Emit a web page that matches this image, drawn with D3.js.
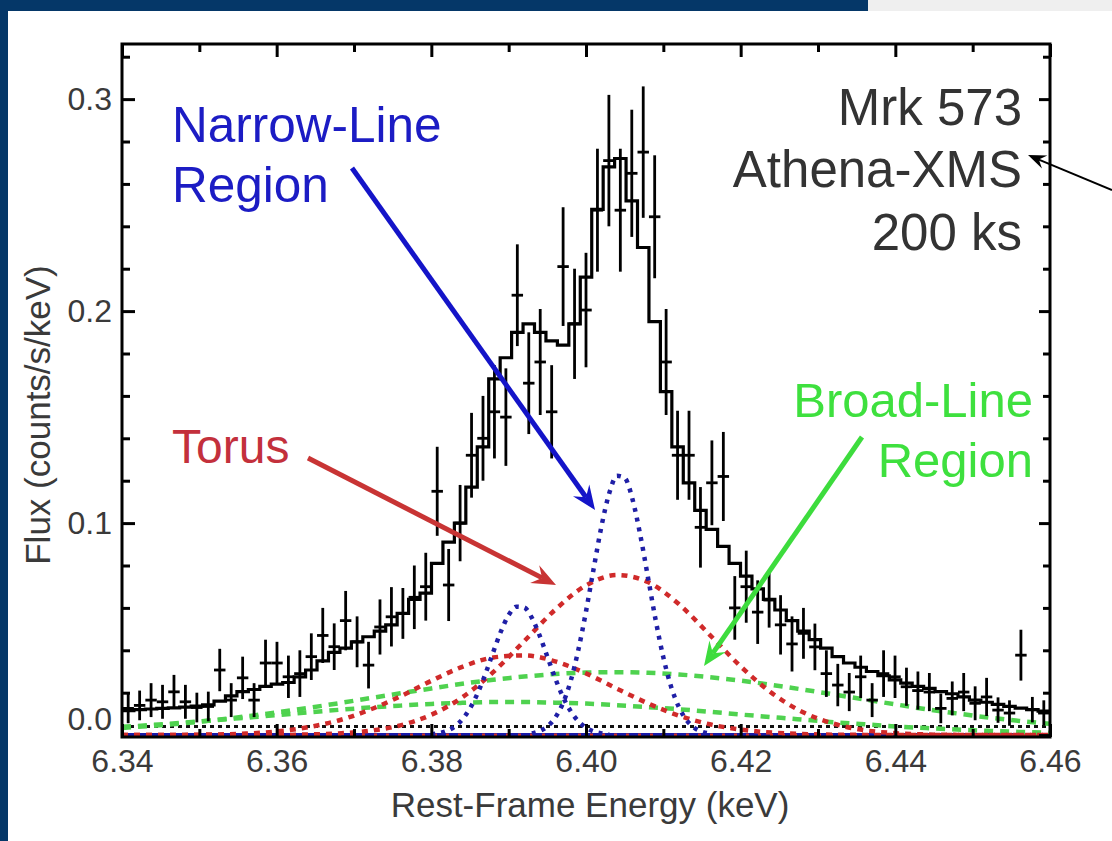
<!DOCTYPE html>
<html><head><meta charset="utf-8">
<script src="https://cdn.jsdelivr.net/npm/d3@7"></script>
<style>
html,body{margin:0;padding:0;background:#fff;}
svg{display:block;font-family:"Liberation Sans",Arial,Helvetica,sans-serif;}
</style></head><body>
<svg id="chart" width="1112" height="841"></svg>
<script>
// ---------------- DATA ----------------
const binWidth = 0.00148;
const binCenters = [6.34080,6.34228,6.34376,6.34524,6.34672,6.34820,6.34968,6.35116,6.35264,6.35412,
6.35560,6.35708,6.35856,6.36004,6.36152,6.36300,6.36448,6.36596,6.36744,6.36892,
6.37040,6.37188,6.37336,6.37484,6.37632,6.37780,6.37928,6.38076,6.38224,6.38372,
6.38520,6.38668,6.38816,6.38964,6.39112,6.39260,6.39408,6.39556,6.39704,6.39852,
6.40000,6.40148,6.40296,6.40444,6.40592,6.40740,6.40888,6.41036,6.41184,6.41332,
6.41480,6.41628,6.41776,6.41924,6.42072,6.42220,6.42368,6.42516,6.42664,6.42812,
6.42960,6.43108,6.43256,6.43404,6.43552,6.43700,6.43848,6.43996,6.44144,6.44292,
6.44440,6.44588,6.44736,6.44884,6.45032,6.45180,6.45328,6.45476,6.45624,6.45772,6.45920];
const flux = [0.0126,0.0140,0.0165,0.0157,0.0204,0.0157,0.0130,0.0135,0.0307,0.0165,
0.0270,0.0165,0.0340,0.0340,0.0275,0.0290,0.0370,0.0470,0.0417,0.0540,
0.0440,0.0330,0.0510,0.0558,0.0574,0.0650,0.0700,0.1150,0.0708,0.1000,
0.1320,0.1400,0.1525,0.1500,0.2075,0.1660,0.1760,0.1525,0.2210,0.1940,
0.2005,0.2476,0.2710,0.2476,0.2650,0.2750,0.2445,0.1760,0.1320,0.1320,
0.0980,0.1190,0.1220,0.0600,0.0700,0.0580,0.0637,0.0520,0.0430,0.0480,
0.0416,0.0290,0.0236,0.0203,0.0275,0.0165,0.0290,0.0275,0.0228,0.0210,
0.0203,0.0126,0.0173,0.0203,0.0150,0.0180,0.0118,0.0104,0.0377,0.0120,0.0104];
const fluxErr = [0.007,0.007,0.008,0.008,0.008,0.008,0.007,0.007,0.010,0.008,
0.010,0.008,0.011,0.010,0.010,0.011,0.011,0.013,0.011,0.014,
0.012,0.011,0.013,0.014,0.012,0.015,0.016,0.021,0.017,0.018,
0.020,0.020,0.022,0.023,0.024,0.024,0.025,0.022,0.028,0.026,
0.027,0.029,0.031,0.029,0.030,0.031,0.029,0.025,0.021,0.021,
0.019,0.020,0.021,0.015,0.017,0.015,0.013,0.014,0.013,0.012,
0.011,0.011,0.010,0.009,0.010,0.008,0.011,0.010,0.009,0.009,
0.009,0.007,0.008,0.009,0.008,0.009,0.006,0.006,0.012,0.006,0.006];
const model = [0.0115,0.0120,0.0123,0.0126,0.0128,0.0132,0.0137,0.0143,0.0160,0.0185,
0.0205,0.0215,0.0230,0.0240,0.0248,0.0275,0.0307,0.0350,0.0390,0.0410,
0.0440,0.0464,0.0490,0.0520,0.0574,0.0640,0.0670,0.0810,0.0910,0.1000,
0.1170,0.1360,0.1680,0.1780,0.1900,0.1940,0.1900,0.1860,0.1840,0.1940,
0.2160,0.2480,0.2680,0.2720,0.2520,0.2300,0.1950,0.1620,0.1360,0.1190,
0.1060,0.0970,0.0890,0.0810,0.0750,0.0690,0.0640,0.0590,0.0540,0.0490,
0.0450,0.0410,0.0370,0.0340,0.0320,0.0300,0.0280,0.0260,0.0245,0.0230,
0.0220,0.0205,0.0195,0.0180,0.0165,0.0155,0.0145,0.0135,0.0127,0.0120,0.0113];

// model components
const broadE = [6.340,6.344,6.348,6.352,6.356,6.360,6.364,6.368,6.372,6.376,6.380,6.384,6.388,6.392,6.396,6.400,
6.404,6.408,6.412,6.416,6.420,6.424,6.428,6.432,6.436,6.440,6.444,6.448,6.452,6.456,6.460];
const torusKa2 = [0,0,0.0001,0.0003,0.0007,0.0017,0.0037,0.0069,0.0119,0.0183,0.0256,0.0322,0.0366,0.0376,0.0348,0.0291,
0.0219,0.0150,0.0092,0.0051,0.0026,0.0012,0.0005,0.0002,0.0001,0,0,0,0,0,0];
const torusKa1 = [0,0,0,0,0,0,0.0003,0.0008,0.0020,0.0046,0.0096,0.0178,0.0297,0.0443,0.0591,0.0706,
0.0755,0.0722,0.0618,0.0473,0.0324,0.0199,0.0109,0.0054,0.0023,0.0009,0.0003,0.0001,0,0,0];
const blrKa1 = [0.0034,0.0044,0.0056,0.0071,0.0088,0.0107,0.0128,0.0150,0.0174,0.0197,0.0220,0.0242,0.0261,0.0276,0.0288,0.0295,
0.0297,0.0294,0.0286,0.0273,0.0257,0.0237,0.0215,0.0192,0.0168,0.0145,0.0122,0.0102,0.0083,0.0067,0.0053];
const blrKa2 = [0.0039,0.0048,0.0059,0.0070,0.0082,0.0094,0.0107,0.0119,0.0130,0.0139,0.0147,0.0152,0.0156,0.0156,0.0153,0.0149,
0.0141,0.0132,0.0122,0.0110,0.0097,0.0085,0.0073,0.0061,0.0051,0.0041,0.0033,0.0026,0.0020,0.0015,0.0011];
const nlrKa2E = [6.380,6.381,6.382,6.383,6.384,6.385,6.386,6.387,6.388,6.389,6.390,6.391,6.392,6.393,6.394,6.395,
6.396,6.397,6.398,6.399,6.400,6.401,6.402,6.403];
const nlrKa2 = [0.0004,0.0009,0.0020,0.0040,0.0074,0.0126,0.0198,0.0289,0.0391,0.0489,0.0566,0.0606,0.0602,0.0553,0.0470,0.0370,
0.0270,0.0182,0.0114,0.0066,0.0035,0.0017,0.0008,0.0003];
const nlrKa1E = [6.393,6.394,6.395,6.396,6.397,6.398,6.399,6.400,6.401,6.402,6.403,6.404,6.405,6.406,6.407,6.408,
6.409,6.410,6.411,6.412,6.413,6.414,6.415,6.416];
const nlrKa1 = [0.0008,0.0019,0.0041,0.0081,0.0149,0.0253,0.0400,0.0583,0.0787,0.0985,0.1140,0.1223,0.1213,0.1114,0.0947,0.0747,
0.0544,0.0367,0.0229,0.0133,0.0071,0.0035,0.0016,0.0007];
const levelE = [6.34, 6.46];
const continuum = [0.004, 0.004];
const zeroLevel = [0, 0];

// axes
const xLabelTicks = [6.34,6.36,6.38,6.40,6.42,6.44,6.46];
const xMinorTicks = [6.35,6.37,6.39,6.41,6.43,6.45];
const yLabelTicks = [0.0,0.1,0.2,0.3];
const yMinorTicks = [0.02,0.04,0.06,0.08,0.12,0.14,0.16,0.18,0.22,0.24,0.26,0.28,0.32];
const xTitle = "Rest-Frame Energy (keV)";
const yTitle = "Flux (counts/s/keV)";
const infoLines = ["Mrk 573", "Athena-XMS", "200 ks"];

// ---------------- DRAW ----------------
const svg = d3.select("#chart");
const W = 1112, H = 841;
const M = {left:122, right:1050, top:44, bottom:737};
const x = d3.scaleLinear().domain([6.34, 6.46]).range([M.left, M.right]);
const y = d3.scaleLinear().domain([-0.0009, 0.326]).range([M.bottom, M.top]);

// page frame
svg.append("rect").attr("width",W).attr("height",H).attr("fill","#fff");
svg.append("rect").attr("x",0).attr("y",0).attr("width",868).attr("height",11).attr("fill","#053768");
svg.append("rect").attr("x",868).attr("y",0).attr("width",W-868).attr("height",11).attr("fill","#efefef");
svg.append("rect").attr("x",0).attr("y",0).attr("width",8).attr("height",H).attr("fill","#053768");

svg.append("defs").append("clipPath").attr("id","plotclip")
  .append("rect").attr("x",M.left).attr("y",M.top).attr("width",M.right-M.left).attr("height",M.bottom-M.top);

const plot = svg.append("g").attr("clip-path","url(#plotclip)");

const lineOf = (E, V, curve) => d3.line().x((d,i)=>x(E[i])).y(d=>y(d)).curve(curve||d3.curveLinear)(V);

// zero-level components
plot.append("path").attr("d",lineOf(levelE, zeroLevel)).attr("fill","none")
  .attr("stroke","#1a1aa8").attr("stroke-width",4);
plot.append("path").attr("d",lineOf(levelE, zeroLevel)).attr("fill","none")
  .attr("stroke","#d03030").attr("stroke-width",3).attr("stroke-dasharray","3,9");
// continuum
plot.append("path").attr("d",lineOf(levelE, continuum)).attr("fill","none")
  .attr("stroke","#111").attr("stroke-width",3).attr("stroke-dasharray","4,4");

const comps = [
  {E: broadE, V: blrKa2, color:"#4fd24f", dash:"9,7"},
  {E: broadE, V: blrKa1, color:"#4fd24f", dash:"9,7"},
  {E: broadE, V: torusKa2, color:"#d02a2a", dash:"6,6"},
  {E: broadE, V: torusKa1, color:"#d02a2a", dash:"6,6"},
  {E: nlrKa2E, V: nlrKa2, color:"#1f1fa6", dash:"4,6"},
  {E: nlrKa1E, V: nlrKa1, color:"#1f1fa6", dash:"4,6"}
];
comps.forEach(c => {
  plot.append("path").attr("d", lineOf(c.E, c.V, d3.curveMonotoneX)).attr("fill","none")
    .attr("stroke", c.color).attr("stroke-width",4.5).attr("stroke-dasharray", c.dash);
});

// model histogram
const stepPts = [];
binCenters.forEach((c,i) => { stepPts.push([c - binWidth/2, model[i]]); stepPts.push([c + binWidth/2, model[i]]); });
plot.append("path").attr("d", d3.line().x(d=>x(d[0])).y(d=>y(d[1]))(stepPts))
  .attr("fill","none").attr("stroke","#000").attr("stroke-width",3.2);

// data crosses
const cross = plot.append("g").attr("stroke","#000").attr("stroke-width",2.8);
binCenters.forEach((c,i) => {
  cross.append("line").attr("x1",x(c)).attr("x2",x(c)).attr("y1",y(flux[i]-fluxErr[i])).attr("y2",y(flux[i]+fluxErr[i]));
  cross.append("line").attr("x1",x(c-binWidth/2)).attr("x2",x(c+binWidth/2)).attr("y1",y(flux[i])).attr("y2",y(flux[i]));
});

// axes
const tickColor = "#000";
function styleAxis(g){ g.select(".domain").remove(); g.selectAll("line").attr("stroke",tickColor).attr("stroke-width",3);
  g.selectAll("text").attr("fill","#3a3a3a").style("font-size","32px").style("font-family",'"Liberation Sans",Arial,sans-serif'); }
const gB = svg.append("g").attr("transform",`translate(0,${M.bottom})`)
  .call(d3.axisBottom(x).tickValues(xLabelTicks).tickSize(-13).tickPadding(12).tickFormat(d3.format(".2f")));
styleAxis(gB);
const gBm = svg.append("g").attr("transform",`translate(0,${M.bottom})`)
  .call(d3.axisBottom(x).tickValues(xMinorTicks).tickSize(-8).tickFormat(""));
styleAxis(gBm);
const gT = svg.append("g").attr("transform",`translate(0,${M.top})`)
  .call(d3.axisTop(x).tickValues(xLabelTicks).tickSize(-13).tickFormat(""));
styleAxis(gT);
const gTm = svg.append("g").attr("transform",`translate(0,${M.top})`)
  .call(d3.axisTop(x).tickValues(xMinorTicks).tickSize(-8).tickFormat(""));
styleAxis(gTm);
const gL = svg.append("g").attr("transform",`translate(${M.left},0)`)
  .call(d3.axisLeft(y).tickValues(yLabelTicks).tickSize(-13).tickPadding(10).tickFormat(d3.format(".1f")));
styleAxis(gL);
gL.selectAll(".tick").filter(d=>d===0).select("text").attr("y",-16);
gL.selectAll(".tick").filter(d=>d===0).select("line").remove();
const gLm = svg.append("g").attr("transform",`translate(${M.left},0)`)
  .call(d3.axisLeft(y).tickValues(yMinorTicks).tickSize(-8).tickFormat(""));
styleAxis(gLm);
const gR = svg.append("g").attr("transform",`translate(${M.right},0)`)
  .call(d3.axisRight(y).tickValues(yLabelTicks).tickSize(-11).tickFormat(""));
styleAxis(gR);
const gRm = svg.append("g").attr("transform",`translate(${M.right},0)`)
  .call(d3.axisRight(y).tickValues(yMinorTicks).tickSize(-7).tickFormat(""));
styleAxis(gRm);

// frame
svg.append("rect").attr("x",M.left).attr("y",M.top).attr("width",M.right-M.left).attr("height",M.bottom-M.top)
  .attr("fill","none").attr("stroke","#000").attr("stroke-width",3);

// axis titles
svg.append("text").attr("x",590).attr("y",817).attr("text-anchor","middle")
  .attr("fill","#3a3a3a").style("font-size","35px").text(xTitle);
svg.append("text").attr("transform","translate(50,415) rotate(-90)").attr("text-anchor","middle")
  .attr("fill","#3a3a3a").style("font-size","35px").text(yTitle);

// annotations (anchored in data coordinates)
function label(txt, e, v, anchor, color, size){
  svg.append("text").attr("x",x(e)).attr("y",y(v)).attr("text-anchor",anchor)
    .attr("fill",color).style("font-size",size+"px").text(txt);
}
infoLines.forEach((t,i)=> label(t, 6.45638, [0.2878,0.2585,0.2288][i], "end", "#333", 51));
label("Narrow-Line", 6.34647, 0.2798, "start", "#1c1cc4", 49.5);
label("Region", 6.34647, 0.2515, "start", "#1c1cc4", 49.5);
label("Torus", 6.34647, 0.1283, "start", "#c3303c", 48);
label("Broad-Line", 6.45780, 0.1500, "end", "#3ee03e", 49);
label("Region", 6.45780, 0.1217, "end", "#3ee03e", 49);

function arrow(e1,v1,e2,v2,color,width,headLen,headW){
  const x1=x(e1), y1=y(v1), x2=x(e2), y2=y(v2);
  const ang = Math.atan2(y2-y1, x2-x1);
  const ux=Math.cos(ang), uy=Math.sin(ang);
  const bx = x2 - ux*headLen, by = y2 - uy*headLen;
  const nx = x2 - ux*headLen*0.65, ny = y2 - uy*headLen*0.65;
  svg.append("line").attr("x1",x1).attr("y1",y1).attr("x2",nx).attr("y2",ny)
    .attr("stroke",color).attr("stroke-width",width);
  const p = [[x2,y2],[bx - uy*headW, by + ux*headW],[nx,ny],[bx + uy*headW, by - ux*headW]];
  svg.append("path").attr("d","M"+p.map(q=>q.join(",")).join("L")+"Z").attr("fill",color);
}
arrow(6.36974,0.2675, 6.40117,0.1062, "#1414c8", 5, 24, 10);
arrow(6.36405,0.1307, 6.39612,0.0708, "#c83434", 5, 24, 10);
arrow(6.43569,0.1406, 6.41526,0.0326, "#3ddc3d", 5, 24, 10);
arrow(6.46802,0.2571, 6.45716,0.2736, "#000", 2, 18, 7);
</script>
</body></html>
